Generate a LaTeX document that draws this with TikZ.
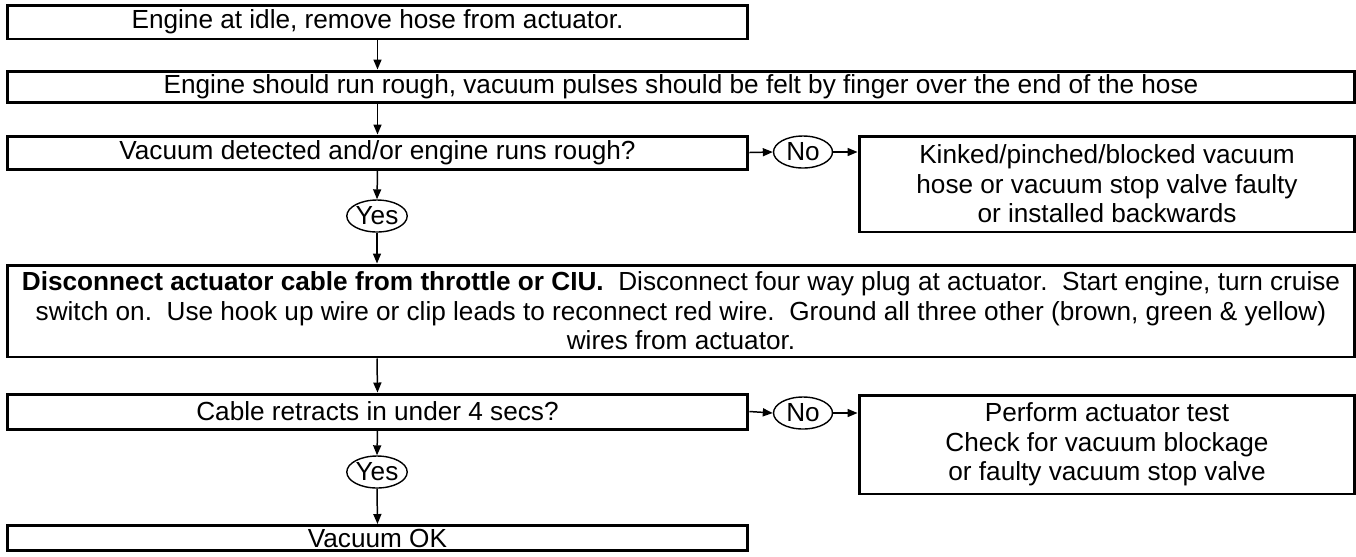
\documentclass[tikz,border=0pt]{standalone}
\usepackage{fontspec}
\setmainfont{Liberation Sans}
\usepackage{tikz}
\usetikzlibrary{arrows.meta,positioning,shapes.geometric}

\begin{document}
\begin{tikzpicture}[x=0.02cm, y=-0.02cm,
  font=\fontsize{14.9pt}{16.8pt}\selectfont,
  stepbox/.style={draw, line width=1.7pt, inner sep=0pt, align=center},
  answer/.style={draw, ellipse, line width=0.8pt, inner sep=0pt,
                 minimum width=1.18cm, minimum height=0.64cm},
  arr/.style={-{Triangle[length=0.2cm, width=0.16cm]}, line width=0.85pt}]
\useasboundingbox (0,0) rectangle (1356,556);

% main column
\node[stepbox, minimum width=14.82cm, minimum height=0.68cm] (idle) at (377.5,22)
  {Engine at idle, remove hose from actuator.};
\node[stepbox, minimum width=26.96cm, minimum height=0.62cm] (rough) at (681,86.5)
  {Engine should run rough, vacuum pulses should be felt by finger over the end of the hose};
\node[stepbox, minimum width=14.82cm, minimum height=0.66cm] (detect) at (377.5,152.5)
  {Vacuum detected and/or engine runs rough?};
\node[answer] (no1) at (803,152) {No};
\node[stepbox, minimum width=9.92cm, minimum height=1.92cm] (kinked) at (1107,184)
  {Kinked/pinched/blocked vacuum\\hose or vacuum stop valve faulty\\or installed backwards};
\node[answer] (yes1) at (377,216) {Yes};
\node[stepbox, minimum width=26.96cm, minimum height=1.84cm] (cable) at (681,311)
  {\textbf{Disconnect actuator cable from throttle or CIU.}\ \ Disconnect four way plug at actuator.\ \ Start engine, turn cruise\\
   switch on.\ \ Use hook up wire or clip leads to reconnect red wire.\ \ Ground all three other (brown, green \& yellow)\\
   wires from actuator.};
\node[stepbox, minimum width=14.82cm, minimum height=0.70cm] (retract) at (377.5,411.5)
  {Cable retracts in under 4 secs?};
\node[answer] (no2) at (803,413) {No};
\node[stepbox, minimum width=9.92cm, minimum height=1.98cm] (perform) at (1107,444.5)
  {Perform actuator test\\Check for vacuum blockage\\or faulty vacuum stop valve};
\node[answer] (yes2) at (377,472) {Yes};
\node[stepbox, minimum width=14.82cm, minimum height=0.50cm] (ok) at (377.5,538)
  {Vacuum OK};

% connectors
\draw[arr] (idle.south) -- (idle.south |- rough.north);
\draw[arr] (idle.south |- rough.south) -- (detect.north);
\draw[arr] (detect.east) -- (no1.west);
\draw[arr] (no1.east) -- (no1.east -| kinked.west);
\draw[arr] (detect.south) -- (yes1.north);
\draw[arr] (yes1.south) -- (yes1.south |- cable.north);
\draw[arr] (yes1.south |- cable.south) -- (retract.north);
\draw[arr] (retract.east) -- (no2.west);
\draw[arr] (no2.east) -- (no2.east -| perform.west);
\draw[arr] (retract.south) -- (yes2.north);
\draw[arr] (yes2.south) -- (ok.north);
\end{tikzpicture}
\end{document}
